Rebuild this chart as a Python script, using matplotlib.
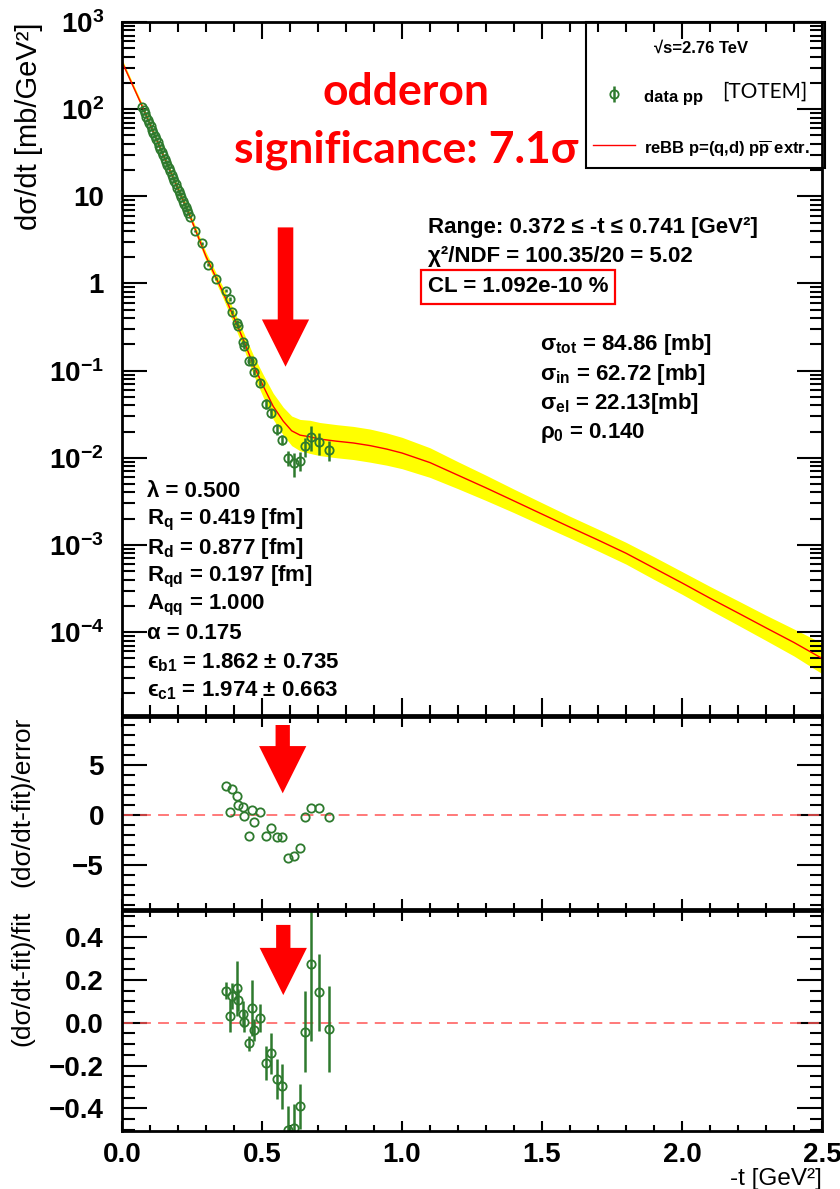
import numpy as np
import matplotlib
matplotlib.use("Agg")
import matplotlib.pyplot as plt
from matplotlib.ticker import MultipleLocator, LogLocator, NullFormatter
from matplotlib.patches import Rectangle

# TOTEM pp 2.76 TeV, low -t points (on the fit curve)
t_low = [0.072, 0.077, 0.082, 0.087, 0.092, 0.097, 0.102, 0.107, 0.112, 0.117,
         0.122, 0.127, 0.132, 0.137, 0.142, 0.147, 0.152, 0.157, 0.162, 0.167,
         0.172, 0.177, 0.182, 0.187, 0.192, 0.197, 0.202, 0.207, 0.212, 0.217,
         0.222, 0.227, 0.232, 0.237, 0.243, 0.261, 0.285, 0.308, 0.335]
dsdt_low = [106, 97.3, 89.3, 82.0, 75.3, 69.2, 63.5, 58.3, 53.6, 49.2,
            45.2, 41.5, 38.1, 35.0, 32.1, 29.5, 27.1, 24.9, 22.9, 21.0,
            19.3, 17.7, 16.3, 14.9, 13.7, 12.6, 11.6, 10.6, 9.75, 8.95,
            8.22, 7.55, 6.93, 6.37, 5.75, 3.98, 2.88, 1.65, 1.14]

# points inside the fit range 0.372 <= -t <= 0.741
t_rng = [0.372, 0.386, 0.394, 0.410, 0.414, 0.431, 0.436, 0.453, 0.463, 0.473, 0.493,
         0.513, 0.533, 0.552, 0.573, 0.594, 0.614, 0.635, 0.655, 0.674, 0.704, 0.741]
dsdt_rng = [0.83, 0.66, 0.468, 0.355, 0.324, 0.211, 0.19, 0.130, 0.130, 0.0966, 0.0724,
            0.0417, 0.0324, 0.0214, 0.0162, 0.0100, 0.0087, 0.0093, 0.0135, 0.0174, 0.0151, 0.0123]
relerr_rng = [0.04, 0.05, 0.05, 0.06, 0.05, 0.06, 0.06, 0.06, 0.08, 0.07, 0.08,
              0.12, 0.12, 0.14, 0.14, 0.20, 0.30, 0.25, 0.25, 0.32, 0.28, 0.26]

# residuals
pull = [2.93, 0.33, 2.6, 1.93, 1.0, 0.83, -0.07, -2.1, 0.5, -0.67, 0.27,
        -2.1, -1.27, -2.17, -2.23, -4.33, -4.07, -3.3, -0.23, 0.73, 0.67, -0.17]
rel_dev = [0.15, 0.031, 0.126, 0.16, 0.106, 0.04, 0.005, -0.097, 0.07, -0.034, 0.023,
           -0.19, -0.143, -0.263, -0.296, -0.50, -0.49, -0.39, -0.042, 0.274, 0.142, -0.03]
rel_dev_err = [0.04, 0.074, 0.06, 0.13, 0.05, 0.06, 0.05, 0.035, 0.13, 0.05, 0.065,
               0.08, 0.095, 0.095, 0.105, 0.11, 0.11, 0.105, 0.19, 0.36, 0.18, 0.2]

# reBB model curve (pp-bar extrapolated) and its error band (half width in decades)
curve_t = [0.0, 0.07, 0.15, 0.243, 0.30, 0.356, 0.398, 0.433, 0.469, 0.505, 0.54,
           0.576, 0.606, 0.636, 0.671, 0.707, 0.767, 0.826, 0.886, 0.945, 1.0,
           1.1, 1.2, 1.3, 1.4, 1.5, 1.6, 1.7, 1.8, 1.9, 2.0,
           2.1, 2.2, 2.3, 2.4, 2.5]
curve_y = [350, 112, 28.2, 5.9, 2.04, 0.85, 0.42, 0.227, 0.117, 0.066, 0.039,
           0.0263, 0.0204, 0.0182, 0.0174, 0.0164, 0.0155, 0.0148, 0.0138, 0.0126, 0.01135,
           0.00881, 0.00631, 0.00452, 0.0032, 0.00226, 0.0016, 0.00114, 0.000804, 0.000543, 0.000367,
           0.000245, 0.000166, 0.000112, 0.000076, 0.000050]
band_dex = [0.03, 0.03, 0.03, 0.04, 0.05, 0.06, 0.08, 0.09, 0.11, 0.13, 0.15,
            0.16, 0.17, 0.18, 0.19, 0.19, 0.19, 0.19, 0.19, 0.185, 0.18,
            0.17, 0.155, 0.145, 0.135, 0.13, 0.125, 0.125, 0.125, 0.13, 0.13,
            0.135, 0.14, 0.145, 0.155, 0.175]

main_yticks = [1e-4, 1e-3, 1e-2, 1e-1, 1, 10, 1e2, 1e3]
main_ylabels = ['$10^{-4}$', '$10^{-3}$', '$10^{-2}$', '$10^{-1}$', '1', '10', '$10^{2}$', '$10^{3}$']
pull_yticks = [-5, 0, 5]
pull_ylabels = ['\u22125', '0', '5']
dev_yticks = [-0.4, -0.2, 0.0, 0.2, 0.4]
dev_ylabels = ['\u22120.4', '\u22120.2', '0.0', '0.2', '0.4']

plt.rcParams['font.family'] = ['Liberation Sans', 'DejaVu Sans']
plt.rcParams['font.weight'] = 'bold'
plt.rcParams['mathtext.fontset'] = 'custom'
plt.rcParams['mathtext.rm'] = 'Liberation Sans:bold'
plt.rcParams['mathtext.bf'] = 'Liberation Sans:bold'
plt.rcParams['mathtext.it'] = 'Liberation Sans:bold'
plt.rcParams['mathtext.default'] = 'bf'

green = '#2e7a2e'
W, H = 840, 1189
fig = plt.figure(figsize=(W / 100, H / 100), dpi=100)
ax1 = fig.add_axes([122 / W, 1 - 715 / H, 700 / W, 693 / H])
ax2 = fig.add_axes([122 / W, 1 - 909 / H, 700 / W, 192 / H])
ax3 = fig.add_axes([122 / W, 1 - 1131 / H, 700 / W, 220 / H])

# ---- main panel
cy = np.array(curve_y)
dex = np.array(band_dex)
ax1.fill_between(curve_t, cy * 10 ** -dex, cy * 10 ** dex, color='#ffff00', lw=0, zorder=1)
fit_line, = ax1.plot(curve_t, curve_y, color='#ff0000', lw=1.0, zorder=2)

t_all = t_low + t_rng
y_all = np.array(dsdt_low + dsdt_rng)
rel_all = np.array([0.03] * len(t_low) + relerr_rng)
data = ax1.errorbar(t_all, y_all, yerr=y_all * rel_all, fmt='o', ms=6, mfc='none',
                    mec=green, mew=1.3, ecolor=green, elinewidth=1.8, capsize=0, zorder=3)

ax1.set_yscale('log')
ax1.set_xlim(0, 2.5)
ax1.set_ylim(1.12e-5, 1e3)
ax1.set_yticks(main_yticks, main_ylabels)
ax1.yaxis.set_minor_locator(LogLocator(base=10, subs=np.arange(2, 10), numticks=30))
ax1.yaxis.set_minor_formatter(NullFormatter())
ax1.set_ylabel('d\u03c3/dt [mb/GeV\u00b2]', fontsize=21, fontweight='normal', loc='top', labelpad=4)

# legend: frame drawn separately so that it spans the ROOT-like box
ax1.add_patch(Rectangle((0.663, 0.789), 0.341, 0.211, transform=ax1.transAxes, fill=False,
                        ec='black', lw=1.5, clip_on=False, zorder=5))
leg = ax1.legend([data, fit_line], ['data pp', 'reBB p=(q,d) p$\\overline{p}$ extr.'],
                 title='\u221as=2.76 TeV', loc='upper left', bbox_to_anchor=(0.673, 0.9726),
                 borderaxespad=0, borderpad=0, frameon=False, fontsize=12, title_fontsize=12,
                 handlelength=2.5, handleheight=1.65, handletextpad=0.55, labelspacing=1.78)
ax1.text(0.857, 0.899, '[TOTEM]', transform=ax1.transAxes, fontsize=15,
         fontweight='normal', family=['Lato', 'DejaVu Sans'], va='center', zorder=6)

ax1.text(0.406, 0.899, 'odderon', transform=ax1.transAxes, color='red', fontsize=32,
         family=['Lato', 'DejaVu Sans'], fontweight='bold', ha='center', va='center')
ax1.text(0.406, 0.815, 'significance: 7.1\u03c3', transform=ax1.transAxes, color='red',
         fontsize=32, family=['Lato', 'DejaVu Sans'], fontweight='bold', ha='center', va='center')

fs = 16
ax1.text(0.437, 0.703, 'Range: 0.372 \u2264 -t \u2264 0.741 [GeV\u00b2]', transform=ax1.transAxes,
         fontsize=fs, va='center')
ax1.text(0.437, 0.661, '\u03c7\u00b2/NDF = 100.35/20 = 5.02', transform=ax1.transAxes,
         fontsize=fs, va='center')
ax1.text(0.437, 0.618, 'CL = 1.092e-10 %', transform=ax1.transAxes, fontsize=fs, va='center',
         bbox=dict(boxstyle='square,pad=0.3', fc='none', ec='red', lw=1.6))

right_lines = ['\u03c3$_{tot}$ = 84.86 [mb]', '\u03c3$_{in}$ = 62.72 [mb]',
               '\u03c3$_{el}$ = 22.13[mb]', '\u03c1$_{0}$ = 0.140']
for i, s in enumerate(right_lines):
    ax1.text(0.597, 0.534 - i * 0.0425, s, transform=ax1.transAxes, fontsize=fs, va='center')

left_lines = ['\u03bb = 0.500', 'R$_{q}$ = 0.419 [fm]', 'R$_{d}$ = 0.877 [fm]',
              'R$_{qd}$ = 0.197 [fm]', 'A$_{qq}$ = 1.000', '\u03b1 = 0.175',
              '\u03f5$_{b1}$ = 1.862 \u00b1 0.735', '\u03f5$_{c1}$ = 1.974 \u00b1 0.663']
for i, s in enumerate(left_lines):
    ax1.text(0.0357, 0.323 - i * 0.0412, s, transform=ax1.transAxes, fontsize=fs, va='center')

# ---- pull panel
ax2.axhline(0, color='#ff5555', lw=1.3, ls=(0, (6, 4)), alpha=0.85)
ax2.plot(t_rng, pull, 'o', ms=6, mfc='none', mec=green, mew=1.3)
ax2.set_xlim(0, 2.5)
ax2.set_ylim(-9.4, 9.8)
ax2.set_yticks(pull_yticks, pull_ylabels)
ax2.yaxis.set_minor_locator(MultipleLocator(1))
ax2.set_ylabel('(d\u03c3/dt-fit)/error', fontsize=19, fontweight='normal', loc='top')
ax2.yaxis.set_label_coords(-0.125, 1.0)

# ---- relative deviation panel
ax3.axhline(0, color='#ff5555', lw=1.3, ls=(0, (6, 4)), alpha=0.85)
ax3.errorbar(t_rng, rel_dev, yerr=rel_dev_err, fmt='o', ms=6, mfc='none', mec=green,
             mew=1.3, ecolor=green, elinewidth=1.8, capsize=0)
ax3.set_xlim(0, 2.5)
ax3.set_ylim(-0.506, 0.522)
ax3.set_yticks(dev_yticks, dev_ylabels)
ax3.yaxis.set_minor_locator(MultipleLocator(0.05))
ax3.set_ylabel('(d\u03c3/dt-fit)/fit', fontsize=19, fontweight='normal', loc='top')
ax3.yaxis.set_label_coords(-0.125, 1.0)
ax3.set_xlabel('-t [GeV\u00b2]', fontsize=17.5, fontweight='normal', loc='right')
ax3.xaxis.set_label_coords(1.0, -0.166)

# arrows marking the dip region
arrow_cfg = [(ax1, 0.584, 4.4, 0.111, 11.2), (ax2, 0.574, 9.0, 2.17, 10.3),
             (ax3, 0.576, 0.457, 0.129, 10.3)]
for ax, xa, y0, y1, tw in arrow_cfg:
    ax.annotate('', xy=(xa, y1), xytext=(xa, y0),
                arrowprops=dict(arrowstyle='simple,head_length=34,head_width=34,tail_width=%g' % tw,
                                mutation_scale=1, fc='red', ec='none', shrinkA=0, shrinkB=0),
                zorder=5)

for ax in (ax1, ax2, ax3):
    ax.xaxis.set_major_locator(MultipleLocator(0.5))
    ax.xaxis.set_minor_locator(MultipleLocator(0.1))
    ax.tick_params(which='both', direction='in', top=True, right=True, width=1.5,
                   labelsize=20)
    ax.tick_params(axis='y', which='major', length=18, pad=13)
    ax.tick_params(axis='y', which='minor', length=9)
    ax.tick_params(axis='x', which='major', pad=8)
    for sp in ax.spines.values():
        sp.set_linewidth(2)
ax1.tick_params(axis='x', which='major', length=12)
ax1.tick_params(axis='x', which='minor', length=7)
for ax in (ax2, ax3):
    ax.tick_params(axis='x', which='major', length=7)
    ax.tick_params(axis='x', which='minor', length=4)
ax1.tick_params(labelbottom=False)
ax2.tick_params(labelbottom=False)
ax3.set_xticks([0, 0.5, 1.0, 1.5, 2.0, 2.5], ['0.0', '0.5', '1.0', '1.5', '2.0', '2.5'])

fig.savefig('out.png', dpi=100)
